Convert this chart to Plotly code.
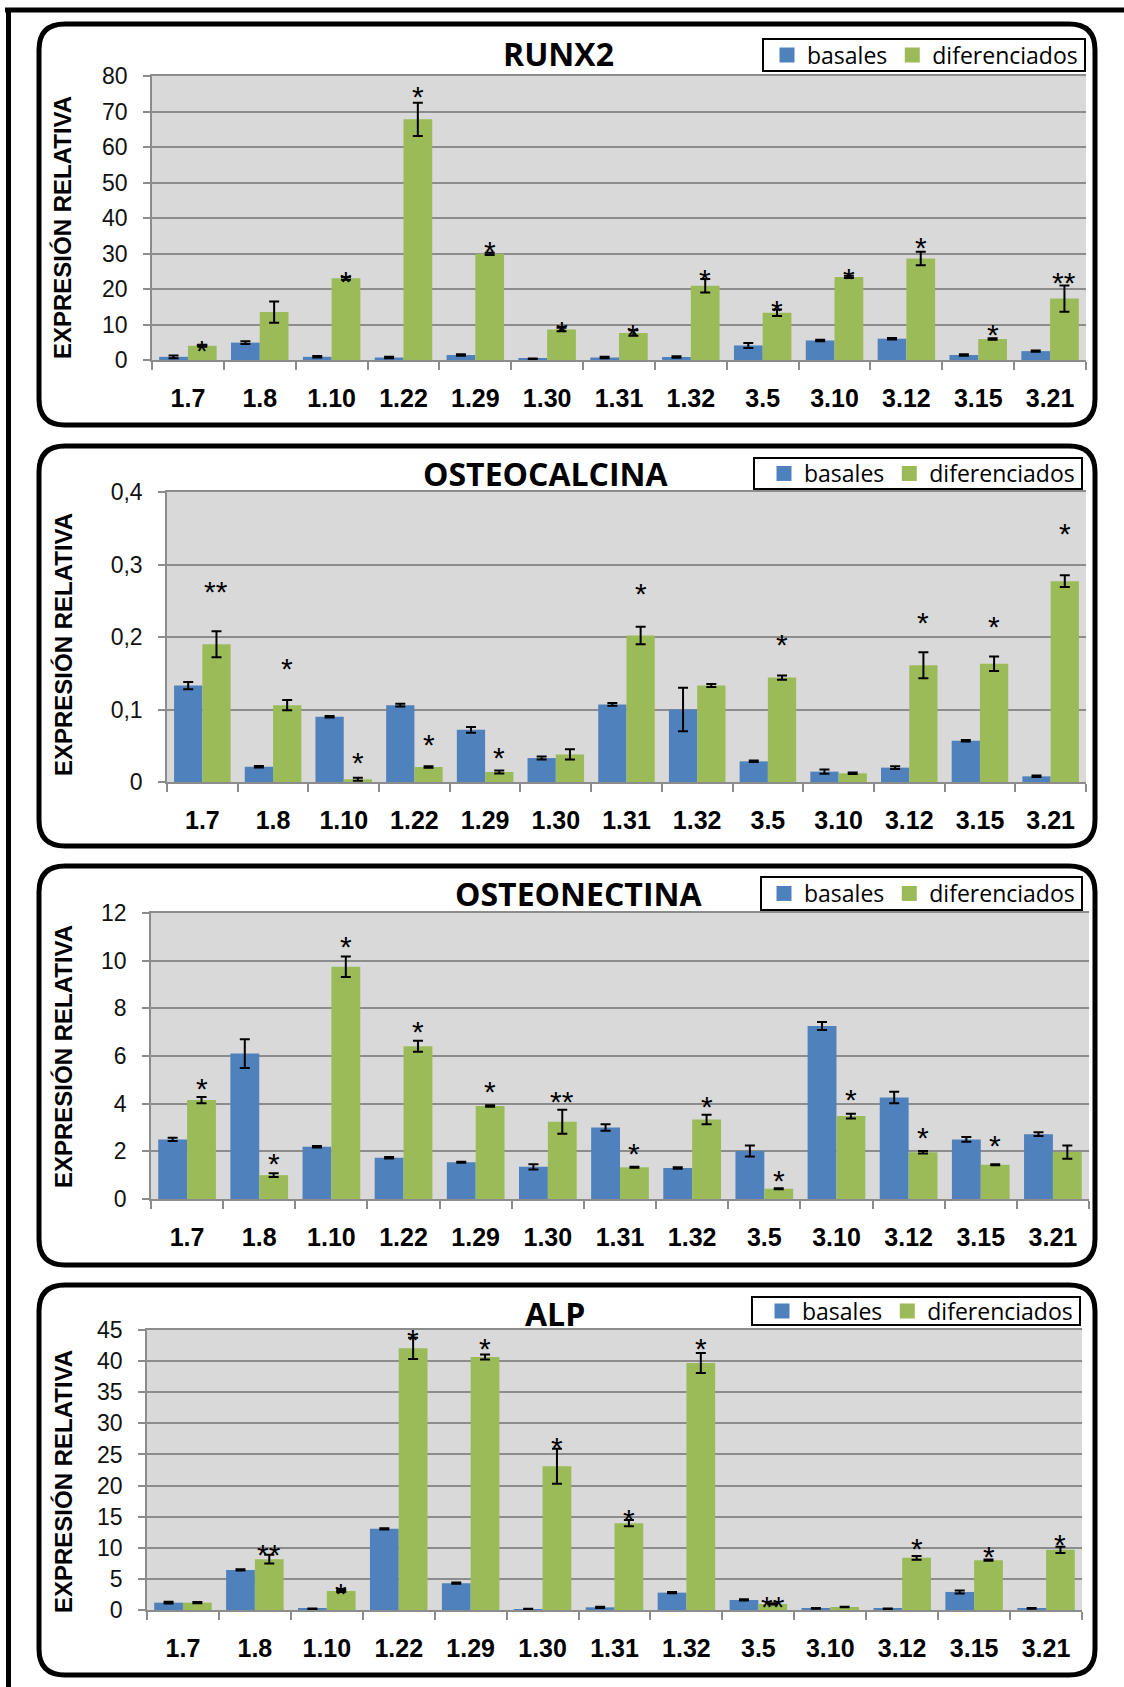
import plotly.graph_objects as go

W, H = 1124, 1687

categories = ["1.7", "1.8", "1.10", "1.22", "1.29", "1.30", "1.31", "1.32",
              "3.5", "3.10", "3.12", "3.15", "3.21"]
series_names = ["basales", "diferenciados"]

# RUNX2
runx2_basales = [0.9, 4.9, 0.9, 0.7, 1.4, 0.3, 0.7, 0.85, 4.1, 5.5, 6.0, 1.4, 2.5]
runx2_basales_err = [0.4, 0.4, 0.2, 0.2, 0.2, 0.1, 0.2, 0.2, 0.7, 0.2, 0.2, 0.2, 0.2]
runx2_dif = [4.0, 13.5, 23.0, 67.8, 29.9, 8.6, 7.6, 20.9, 13.3, 23.4, 28.6, 5.9, 17.3]
runx2_dif_err = [0.3, 3.0, 0.4, 4.7, 0.3, 0.5, 0.8, 1.9, 0.9, 0.3, 1.9, 0.2, 3.7]
runx2_sig = ["*", "", "*", "*", "*", "*", "*", "*", "*", "*", "*", "*", "**"]
runx2_sig_y = [4.7, 0, 24.2, 76.2, 32.6, 9.9, 9.2, 24.6, 16.0, 24.9, 33.8, 9.2, 23.7]

# OSTEOCALCINA
ocn_basales = [0.133, 0.021, 0.090, 0.106, 0.072, 0.033, 0.107, 0.100, 0.0285, 0.0143, 0.0198, 0.057, 0.0078]
ocn_basales_err = [0.005, 0.001, 0.001, 0.002, 0.004, 0.002, 0.002, 0.030, 0.001, 0.003, 0.002, 0.001, 0.001]
ocn_dif = [0.190, 0.106, 0.0037, 0.0207, 0.0138, 0.038, 0.202, 0.133, 0.144, 0.012, 0.161, 0.163, 0.277]
ocn_dif_err = [0.018, 0.007, 0.002, 0.001, 0.002, 0.007, 0.012, 0.002, 0.003, 0.001, 0.018, 0.010, 0.008]
ocn_sig = ["**", "*", "*", "*", "*", "", "*", "", "*", "", "*", "*", "*"]
ocn_sig_y = [0.272, 0.166, 0.037, 0.062, 0.044, 0, 0.270, 0, 0.199, 0, 0.229, 0.224, 0.352]

# OSTEONECTINA
onc_basales = [2.50, 6.10, 2.19, 1.73, 1.54, 1.35, 3.00, 1.30, 2.01, 7.26, 4.26, 2.50, 2.72]
onc_basales_err = [0.07, 0.60, 0.03, 0.03, 0.02, 0.11, 0.14, 0.03, 0.23, 0.17, 0.24, 0.10, 0.08]
onc_dif = [4.15, 1.00, 9.74, 6.41, 3.90, 3.24, 1.33, 3.34, 0.43, 3.48, 1.96, 1.44, 1.97]
onc_dif_err = [0.13, 0.08, 0.43, 0.23, 0.03, 0.50, 0.02, 0.20, 0.02, 0.10, 0.05, 0.02, 0.28]
onc_sig = ["*", "*", "*", "*", "*", "**", "*", "*", "*", "*", "*", "*", ""]
onc_sig_y = [4.92, 1.77, 10.9, 7.32, 4.81, 4.39, 2.22, 4.18, 1.08, 4.47, 2.89, 2.54, 0]

# ALP
alp_basales = [1.18, 6.44, 0.20, 13.05, 4.30, 0.15, 0.43, 2.79, 1.61, 0.27, 0.21, 2.90, 0.27]
alp_basales_err = [0.15, 0.1, 0.05, 0.1, 0.1, 0.05, 0.1, 0.1, 0.1, 0.05, 0.05, 0.25, 0.05]
alp_dif = [1.18, 8.16, 3.06, 42.05, 40.65, 23.1, 13.96, 39.7, 0.97, 0.48, 8.38, 8.00, 9.67]
alp_dif_err = [0.1, 0.7, 0.15, 1.7, 0.4, 2.8, 0.5, 1.6, 0.1, 0.05, 0.3, 0.1, 0.5]
alp_sig = ["", "**", "*", "*", "*", "*", "*", "*", "**", "", "*", "*", "*"]
alp_sig_y = [0, 10.0, 3.76, 44.6, 43.1, 27.3, 15.6, 43.2, 1.72, 0, 11.0, 9.77, 11.65]

titles = ["RUNX2", "OSTEOCALCINA", "OSTEONECTINA", "ALP"]
y_title = "EXPRESIÓN RELATIVA"

# y-axis ticks
runx2_ticks = [0, 10, 20, 30, 40, 50, 60, 70, 80]
ocn_ticks = [0, 0.1, 0.2, 0.3, 0.4]
ocn_ticktext = ["0", "0,1", "0,2", "0,3", "0,4"]
onc_ticks = [0, 2, 4, 6, 8, 10, 12]
alp_ticks = [0, 5, 10, 15, 20, 25, 30, 35, 40, 45]

BLUE = "#4F81BD"
GREEN = "#9BBB59"
GRID = "#8C8C8C"
ARIAL = "Arial, Liberation Sans, sans-serif"
TITLEFONT = "Open Sans, Noto Sans, sans-serif"

panels = [
    dict(title=titles[0], bas=runx2_basales, bas_err=runx2_basales_err, dif=runx2_dif, dif_err=runx2_dif_err,
         sig=runx2_sig, sig_y=runx2_sig_y, ticks=runx2_ticks, ticktext=[str(t) for t in runx2_ticks],
         plot=(152, 1086, 76, 360), box=(39, 1095, 24, 425), title_pos=(558, 53),
         legend=(763, 1085, 39, 71), ytitle_y=228),
    dict(title=titles[1], bas=ocn_basales, bas_err=ocn_basales_err, dif=ocn_dif, dif_err=ocn_dif_err,
         sig=ocn_sig, sig_y=ocn_sig_y, ticks=ocn_ticks, ticktext=ocn_ticktext,
         plot=(167, 1086, 492, 782), box=(39, 1095, 446, 846), title_pos=(546, 473),
         legend=(754, 1082, 458, 489), ytitle_y=645),
    dict(title=titles[2], bas=onc_basales, bas_err=onc_basales_err, dif=onc_dif, dif_err=onc_dif_err,
         sig=onc_sig, sig_y=onc_sig_y, ticks=onc_ticks, ticktext=[str(t) for t in onc_ticks],
         plot=(151, 1089, 913, 1199), box=(39, 1095, 866, 1265), title_pos=(578, 893),
         legend=(761, 1082, 877, 910), ytitle_y=1057),
    dict(title=titles[3], bas=alp_basales, bas_err=alp_basales_err, dif=alp_dif, dif_err=alp_dif_err,
         sig=alp_sig, sig_y=alp_sig_y, ticks=alp_ticks, ticktext=[str(t) for t in alp_ticks],
         plot=(147, 1082, 1330, 1610), box=(39, 1095, 1285, 1675), title_pos=(555, 1313),
         legend=(752, 1080, 1297, 1325), ytitle_y=1482),
]


def px(x):
    return x / W


def py(y):
    return 1 - y / H


fig = go.Figure()
layout = dict(
    width=W, height=H, margin=dict(l=0, r=0, t=0, b=0, pad=0, autoexpand=False),
    paper_bgcolor="white", plot_bgcolor="#D9D9D9",
    barmode="group", bargap=0.2, bargroupgap=0,
    shapes=[], annotations=[],
)

for i, p in enumerate(panels):
    n = "" if i == 0 else str(i + 1)
    xa, ya = "x" + n, "y" + n
    lg = "legend" + n
    L, R, T, B = p["plot"]
    fig.add_trace(go.Bar(
        x=categories, y=p["bas"], name=series_names[0], marker_color=BLUE,
        marker_line_width=0, xaxis=xa, yaxis=ya, showlegend=False,
        error_y=dict(type="data", array=p["bas_err"], visible=True, color="black", thickness=2, width=5)))
    fig.add_trace(go.Bar(
        x=categories, y=p["dif"], name=series_names[1], marker_color=GREEN,
        marker_line_width=0, xaxis=xa, yaxis=ya, showlegend=False,
        error_y=dict(type="data", array=p["dif_err"], visible=True, color="black", thickness=2, width=5)))
    # legend entries (square swatches)
    for name, col in zip(series_names, [BLUE, GREEN]):
        fig.add_trace(go.Scatter(
            x=[None], y=[None], mode="markers", name=name, xaxis=xa, yaxis=ya, legend=lg,
            marker=dict(symbol="square", size=15, color=col), hoverinfo="skip"))

    layout["xaxis" + n] = dict(
        domain=[px(L), px(R)], anchor=ya, type="category",
        categoryorder="array", categoryarray=categories, range=[-0.5, len(categories) - 0.5],
        showline=True, linecolor=GRID, linewidth=1.5, mirror=True,
        ticks="outside", tickson="boundaries", ticklen=8, tickcolor=GRID, tickwidth=1.5,
        tickfont=dict(family=ARIAL, size=25, color="black", weight="bold"),
        ticklabelstandoff=15, showgrid=False, fixedrange=True, automargin=False)
    layout["yaxis" + n] = dict(
        domain=[py(B), py(T)], anchor=xa, range=[0, p["ticks"][-1]],
        tickmode="array", tickvals=p["ticks"], ticktext=p["ticktext"],
        showline=True, linecolor=GRID, linewidth=1.5,
        ticks="outside", ticklen=7, tickcolor=GRID, tickwidth=1.5,
        tickfont=dict(family=ARIAL, size=23, color="#111111"),
        ticklabelstandoff=11, automargin=False,
        showgrid=True, gridcolor=GRID, gridwidth=1.5, zeroline=False, fixedrange=True)

    # legend box drawn as a shape, legend entries on top of it
    gl, gr, gt, gb = p["legend"]
    layout["shapes"].append(dict(type="rect", xref="paper", yref="paper",
                                 x0=px(gl), x1=px(gr), y0=py(gb), y1=py(gt),
                                 fillcolor="white", line=dict(color="black", width=2), layer="above"))
    layout[lg] = dict(
        x=px(gr - 2), y=py((gt + gb) / 2), xanchor="right", yanchor="middle", orientation="h",
        bgcolor="rgba(0,0,0,0)", borderwidth=0,
        font=dict(family=TITLEFONT, size=23, color="black"),
        traceorder="normal", itemwidth=30, tracegroupgap=0)

    # title
    tx, ty = p["title_pos"]
    layout["annotations"].append(dict(
        x=px(tx), y=py(ty), xref="paper", yref="paper", text=p["title"], showarrow=False,
        xanchor="center", yanchor="middle",
        font=dict(family=TITLEFONT, size=32, color="black", weight="bold")))
    # y title
    layout["annotations"].append(dict(
        x=px(63), y=py(p["ytitle_y"]), xref="paper", yref="paper", text=y_title, showarrow=False,
        textangle=-90, xanchor="center", yanchor="middle",
        font=dict(family=ARIAL, size=24, color="black", weight="bold")))
    # significance stars (above the 'diferenciados' bar of each group)
    catw = (R - L) / len(categories)
    for k, (s, sy) in enumerate(zip(p["sig"], p["sig_y"])):
        if s:
            layout["annotations"].append(dict(
                x=k, y=sy, xref=xa, yref=ya, text=s, showarrow=False,
                xanchor="center", yanchor="middle", xshift=0.2 * catw, yshift=-7,
                font=dict(family=ARIAL, size=30, color="black")))

    # rounded panel frame
    bl, br, bt, bb = p["box"]
    r = 26
    pts = [("M", bl + r, bt), ("L", br - r, bt), ("Q", br, bt, br, bt + r), ("L", br, bb - r),
           ("Q", br, bb, br - r, bb), ("L", bl + r, bb), ("Q", bl, bb, bl, bb - r),
           ("L", bl, bt + r), ("Q", bl, bt, bl + r, bt)]
    path = ""
    for seg in pts:
        if seg[0] == "Q":
            path += f"Q {px(seg[1]):.5f},{py(seg[2]):.5f} {px(seg[3]):.5f},{py(seg[4]):.5f} "
        else:
            path += f"{seg[0]} {px(seg[1]):.5f},{py(seg[2]):.5f} "
    path += "Z"
    layout["shapes"].append(dict(type="path", path=path, xref="paper", yref="paper",
                                 line=dict(color="black", width=5)))

# outer frame (top and left)
layout["shapes"].append(dict(type="line", xref="paper", yref="paper",
                             x0=px(5), x1=1, y0=py(10), y1=py(10), line=dict(color="black", width=5)))
layout["shapes"].append(dict(type="line", xref="paper", yref="paper",
                             x0=px(8.5), x1=px(8.5), y0=py(8), y1=0, line=dict(color="black", width=5)))

fig.update_layout(**layout)
fig.write_html("out.html", config={"displayModeBar": False},
               post_script="document.body.style.margin='0px';")
